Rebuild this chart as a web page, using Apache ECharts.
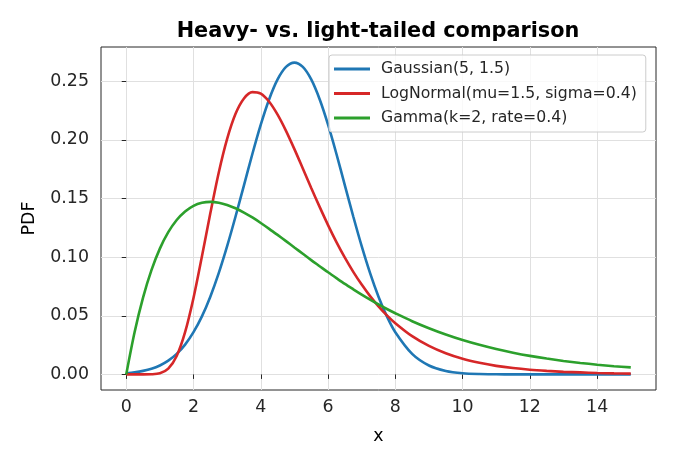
<!DOCTYPE html>
<html>
<head>
<meta charset="utf-8">
<script src="https://cdn.jsdelivr.net/npm/echarts@6/dist/echarts.min.js"></script>
<style>
  html, body { margin: 0; padding: 0; background: #fff; }
  #chart { width: 676px; height: 468px; }
</style>
</head>
<body>
<div id="chart"></div>
<script>
const xs = [0, 0.25, 0.5, 0.75, 1, 1.25, 1.5, 1.75, 2, 2.25, 2.5, 2.75, 3, 3.25, 3.5, 3.75,
  4, 4.25, 4.5, 4.75, 5, 5.25, 5.5, 5.75, 6, 6.25, 6.5, 6.75, 7, 7.25, 7.5, 7.75, 8,
  8.5, 9, 9.5, 10, 10.5, 11, 11.5, 12, 12.5, 13, 13.5, 14, 14.5, 15]

const gaussian = [0.0010, 0.0018, 0.0030, 0.0048, 0.0076, 0.0117, 0.0175, 0.0254, 0.0360, 0.0495,
  0.0663, 0.0864, 0.1094, 0.1347, 0.1613, 0.1880,
  0.2130, 0.2347, 0.2516, 0.2623, 0.2660, 0.2623, 0.2516, 0.2347, 0.2130, 0.1880, 0.1613, 0.1347,
  0.1094, 0.0864, 0.0663, 0.0495, 0.0360,
  0.0175, 0.0076, 0.0030, 0.0010, 0.0003, 0.0001, 0, 0, 0, 0, 0, 0, 0, 0]

const logNormal = [0, 0, 0, 0.0001, 0.0009, 0.0049, 0.0157, 0.0360, 0.0652, 0.1005,
  0.1374, 0.1721, 0.2009, 0.2223, 0.2354, 0.2408,
  0.2395, 0.2326, 0.2216, 0.2078, 0.1922, 0.1757, 0.1591, 0.1429, 0.1274, 0.1129, 0.0996, 0.0875,
  0.0766, 0.0668, 0.0581, 0.0504, 0.0437,
  0.0326, 0.0243, 0.0180, 0.0133, 0.0099, 0.0073, 0.0054, 0.0040, 0.0030, 0.0022, 0.0017, 0.0012,
  0.0009, 0.0007]

const gamma = [0, 0.0362, 0.0655, 0.0889, 0.1073, 0.1213, 0.1317, 0.1390, 0.1438, 0.1464,
  0.1472, 0.1465, 0.1446, 0.1417, 0.1381, 0.1339,
  0.1292, 0.1242, 0.1190, 0.1137, 0.1083, 0.1029, 0.0975, 0.0923, 0.0871, 0.0821, 0.0772, 0.0726,
  0.0681, 0.0638, 0.0597, 0.0558, 0.0522,
  0.0454, 0.0394, 0.0340, 0.0293, 0.0252, 0.0216, 0.0185, 0.0158, 0.0135, 0.0115, 0.0098, 0.0083,
  0.0070, 0.0060]

const seriesNames = ['Gaussian(5, 1.5)', 'LogNormal(mu=1.5, sigma=0.4)', 'Gamma(k=2, rate=0.4)']
const colors = ['#1f77b4', '#d62728', '#2ca02c']

const xTicks = [0, 2, 4, 6, 8, 10, 12, 14]
const yTicks = [0, 0.05, 0.10, 0.15, 0.20, 0.25]

const font = 'DejaVu Sans'
const ink = '#262626'

const chart = echarts.init(document.getElementById('chart'), null, { renderer: 'canvas' })

function pairs(ys) {
  return xs.map((x, i) => [x, ys[i]])
}

const series = [gaussian, logNormal, gamma].map((ys, i) => ({
  name: seriesNames[i],
  type: 'line',
  data: pairs(ys),
  showSymbol: false,
  smooth: 0.3,
  lineStyle: { color: colors[i], width: 2.6 },
  itemStyle: { color: colors[i] },
  silent: true
}))

chart.setOption({
  animation: false,
  backgroundColor: '#fff',
  title: {
    text: 'Heavy- vs. light-tailed comparison',
    left: 373,
    textAlign: 'center',
    top: 16,
    textStyle: { fontFamily: font, fontSize: 20.8, fontWeight: 'bold', color: '#000' }
  },
  legend: {
    orient: 'vertical',
    left: 329,
    top: 55,
    padding: [5, 9, 5, 5],
    itemWidth: 36,
    itemHeight: 3,
    itemGap: 6.5,
    icon: 'rect',
    backgroundColor: 'rgba(255,255,255,0.8)',
    borderColor: '#cccccc',
    borderWidth: 1,
    borderRadius: 3,
    data: seriesNames,
    textStyle: { fontFamily: font, fontSize: 15.7, color: ink, lineHeight: 18, padding: [0, 0, 0, 6] }
  },
  grid: {
    left: 101,
    top: 47,
    right: 20,
    bottom: 78,
    show: true,
    borderColor: ink,
    borderWidth: 1,
    backgroundColor: 'transparent'
  },
  xAxis: {
    type: 'value',
    min: -0.75,
    max: 15.75,
    name: 'x',
    nameLocation: 'middle',
    nameGap: 38,
    nameTextStyle: { fontFamily: font, fontSize: 17.4, color: '#000' },
    axisLine: { show: false },
    axisTick: { show: true, length: 4.5, customValues: xTicks, lineStyle: { color: ink } },
    axisLabel: { customValues: xTicks, margin: 9, fontFamily: font, fontSize: 17.4, color: ink },
    splitLine: { show: true, customValues: xTicks, lineStyle: { color: '#e0e0e0', width: 1 } }
  },
  yAxis: {
    type: 'value',
    min: -0.0133,
    max: 0.2793,
    name: 'PDF',
    nameLocation: 'middle',
    nameGap: 63,
    nameTextStyle: { fontFamily: font, fontSize: 17.4, color: '#000' },
    axisLine: { show: false },
    axisTick: { show: true, length: 4.5, customValues: yTicks, lineStyle: { color: ink } },
    axisLabel: {
      customValues: yTicks,
      margin: 12,
      fontFamily: font,
      fontSize: 17.4,
      color: ink,
      formatter: v => v.toFixed(2)
    },
    splitLine: { show: true, customValues: yTicks, lineStyle: { color: '#e0e0e0', width: 1 } }
  },
  series: series
})
</script>
</body>
</html>
